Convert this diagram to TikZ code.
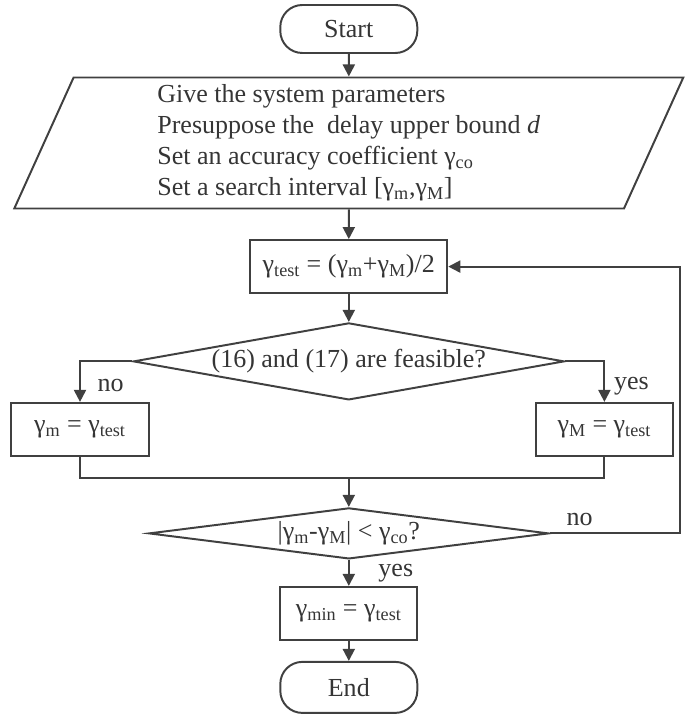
\documentclass[tikz,border=0pt]{standalone}
\usepackage{fontspec}
\setmainfont{Liberation Serif}
\usepackage{tikz}
\usetikzlibrary{shapes.geometric, arrows.meta, positioning}
\usepackage{xcolor}
\definecolor{ink}{HTML}{404040}
\definecolor{txt}{HTML}{353535}

\begin{document}
\begin{tikzpicture}[
      line width=1.4pt, draw=ink,
      >={Triangle[length=0.3cm,width=0.3cm]},
      every node/.style={text=txt, font=\fontsize{18.5}{22}\selectfont},
      terminal/.style={draw=ink, rounded corners=0.55cm, minimum width=3.425cm, minimum height=1.2cm},
      process/.style={draw=ink, minimum height=1.325cm},
      io/.style={draw=ink, trapezium, trapezium left angle=63, trapezium right angle=117,
                 trapezium stretches body, minimum width=16.725cm, minimum height=3.275cm,
                 inner sep=0pt, align=left},
      decision/.style={draw=ink, diamond, inner sep=0pt},
      tag/.style={font=\fontsize{18.5}{22}\selectfont}
    ]
    \useasboundingbox (0,0) rectangle (17.25,17.925);

    % Nodes
    \node[terminal] (start) at (8.72, 17.2) {Start};
    \node[io] (params) at (8.72, 14.35) {Give the system parameters\\
        Presuppose the\ \ delay upper bound \textit{d}\\
        Set an accuracy coefficient γ\textsubscript{co}\\
        Set a search interval [γ\textsubscript{m},γ\textsubscript{M}]};
    \node[process, minimum width=4.925cm] (test) at (8.72, 11.26) {γ\textsubscript{test} = (γ\textsubscript{m}+γ\textsubscript{M})/2};
    \node[decision, aspect=5.6, minimum width=10.775cm, minimum height=1.925cm] (feas) at (8.72, 8.89) {(16) and (17) are feasible?};
    \node[process, minimum width=3.45cm] (lowbox) at (2.0, 7.19) {γ\textsubscript{m} = γ\textsubscript{test}};
    \node[process, minimum width=3.425cm] (upbox) at (15.11, 7.19) {γ\textsubscript{M} = γ\textsubscript{test}};
    \node[decision, aspect=7.84, minimum width=10cm, minimum height=1.275cm] (conv) at (8.72, 4.59) {|γ\textsubscript{m}-γ\textsubscript{M}| < γ\textsubscript{co}?};
    \node[process, minimum width=3.425cm] (result) at (8.72, 2.59) {γ\textsubscript{min} = γ\textsubscript{test}};
    \node[terminal, minimum height=1.275cm] (stop) at (8.72, 0.74) {End};

    \coordinate (join) at (8.72, 5.975);
    \coordinate (loop) at (17.0, 4.59);

    % Arrows
    \draw[->] (start) -- (params);
    \draw[->] (params) -- (test);
    \draw[->] (test) -- (feas);
    \draw[->] (feas.west) -| node[tag, pos=0.8, right=0.3cm] {no} (lowbox.north);
    \draw[->] (feas.east) -| node[tag, pos=0.8, right=0.1cm] {yes} (upbox.north);
    \draw (lowbox.south) |- (join) -| (upbox.south);
    \draw[->] (join) -- (conv.north);
    \draw[->] (conv.east) -- node[tag, pos=0.23, above=0.05cm] {no} (loop) |- (test.east);
    \draw[->] (conv.south) -- node[tag, midway, right=0.6cm] {yes} (result.north);
    \draw[->] (result) -- (stop);
  \end{tikzpicture}
\end{document}
